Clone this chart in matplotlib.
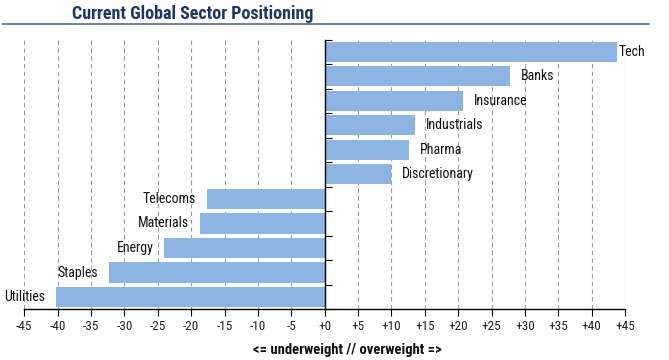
import matplotlib.pyplot as plt
from matplotlib.lines import Line2D

# sectors from top to bottom, with positioning score
sectors = ['Tech', 'Banks', 'Insurance', 'Industrials', 'Pharma', 'Discretionary',
           'Telecoms', 'Materials', 'Energy', 'Staples', 'Utilities']
scores = [43.8, 27.7, 20.7, 13.5, 12.6, 9.9, -17.7, -18.7, -24.0, -32.3, -40.2]
xticks = list(range(-45, 50, 5))
xticklabels = ['+%d' % t if t >= 0 else '%d' % t for t in xticks]

narrow = ['Roboto Condensed', 'Liberation Sans', 'DejaVu Sans']
plt.rcParams['font.family'] = narrow

fig = plt.figure(figsize=(6.69, 3.6), dpi=100)
ax = fig.add_axes([24.3 / 669, 1 - 309.3 / 360, (625 - 24.3) / 669, (309.3 - 39.5) / 360])

n = len(sectors)
ypos = [n - 1 - i for i in range(n)]
ax.barh(ypos, scores, height=0.82, color='#8DB4E2', zorder=2)

ax.set_xlim(-45, 45)
ax.set_ylim(-0.5, n - 0.5)

# dashed grid lines (skip zero, that's the axis)
for t in xticks:
    if t != 0:
        ax.axvline(t, color='#9A9A9A', lw=0.8, ls=(0, (4, 3)), zorder=1)

for s in ['top', 'right']:
    ax.spines[s].set_visible(False)
ax.spines['left'].set_position(('data', 0))
ax.spines['left'].set_zorder(3)
ax.spines['bottom'].set_linewidth(1.0)
ax.spines['left'].set_linewidth(1.0)

ax.set_xticks(xticks)
ax.set_xticklabels(xticklabels, fontsize=9.5, color='#222222')
ax.tick_params(axis='x', direction='out', length=5, width=0.8, pad=3)

ax.set_yticks([k + 0.5 for k in range(-1, n)])
ax.set_yticklabels([])
ax.tick_params(axis='y', direction='in', length=5, width=0.8)

# sector labels next to bar ends
for name, v, y in zip(sectors, scores, ypos):
    pad = 1 if name == 'Tech' else 8
    if v >= 0:
        ax.annotate(name, (v, y), xytext=(pad, 0), textcoords='offset points',
                    ha='left', va='center', fontsize=10, color='#111111')
    else:
        ax.annotate(name, (v, y), xytext=(-pad, 0), textcoords='offset points',
                    ha='right', va='center', fontsize=10, color='#111111')

fig.text(347.5 / 669, 1 - 350 / 360, '<= underweight // overweight =>',
         ha='center', va='center', fontsize=10.5, fontweight='bold', color='#111111')

fig.text(72 / 669, 1 - 19 / 360, 'Current Global Sector Positioning',
         ha='left', va='baseline', fontsize=13, fontweight='bold', color='#1B3764')
fig.add_artist(Line2D([3 / 669, 649 / 669], [1 - 23.5 / 360, 1 - 23.5 / 360],
                      transform=fig.transFigure, color='#5F7A92', lw=1.3))

fig.savefig('out.png', dpi=100)
